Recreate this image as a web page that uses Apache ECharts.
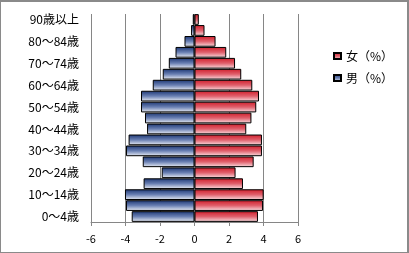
<!DOCTYPE html>
<html><head><meta charset="utf-8">
<script src="https://cdn.jsdelivr.net/npm/echarts@6/dist/echarts.min.js"></script>
<style>
html,body{margin:0;padding:0;background:#fff;}
#c{width:409px;height:253px;box-sizing:border-box;border:1px solid #8a8a8a;border-top:2px solid #8a8a8a;border-right:2px solid #8a8a8a;}
</style></head>
<body><div id="c"></div>
<script>
var categories = ["0～4歳","5～9歳","10～14歳","15～19歳","20～24歳","25～29歳","30～34歳","35～39歳","40～44歳","45～49歳","50～54歳","55～59歳","60～64歳","65～69歳","70～74歳","75～79歳","80～84歳","85～89歳","90歳以上"];
var male = [-3.64,-3.97,-4.03,-2.95,-1.9,-3.0,-3.97,-3.82,-2.75,-2.87,-3.1,-3.1,-2.42,-1.84,-1.49,-1.1,-0.58,-0.2,-0.1];
var female = [3.68,3.97,4.01,2.81,2.38,3.43,3.91,3.91,3.0,3.3,3.58,3.74,3.35,2.71,2.35,1.84,1.22,0.58,0.25];
var xTicks = [-6,-4,-2,0,2,4,6];

var chart = echarts.init(document.getElementById('c'), null, {renderer:'canvas'});
function grad(a,b,c){return new echarts.graphic.LinearGradient(0,0,0,1,[{offset:0,color:a},{offset:0.5,color:b},{offset:1,color:c}]);}
var font = '"Noto Sans CJK JP","Noto Sans",sans-serif';
chart.setOption({
  animation:false,
  textStyle:{fontFamily:font},
  grid:{left:90,right:109,top:12,bottom:30,containLabel:false},
  legend:{
    orient:'vertical', left:327, top:43, itemWidth:7, itemHeight:6, itemGap:10,
    data:['女（%）','男（%）'],
    textStyle:{fontSize:12,color:'#000',fontFamily:font},
    icon:'rect'
  },
  xAxis:{
    type:'value', min:xTicks[0], max:xTicks[xTicks.length-1], interval:2,
    axisLine:{show:true,lineStyle:{color:'#868686'}},
    axisTick:{show:true,length:4,lineStyle:{color:'#868686'}},
    splitLine:{show:true,lineStyle:{color:'#868686',width:1}},
    axisLabel:{fontSize:11,color:'#000',margin:11}
  },
  yAxis:{
    type:'category', data:categories,
    axisLine:{show:false}, axisTick:{show:false},
    axisLabel:{interval:1,fontSize:12,color:'#000',margin:12}
  },
  series:[
    {name:'女（%）',type:'bar',data:female,barGap:'-100%',barCategoryGap:'2%',
     itemStyle:{color:grad('#cf1d2a','#e0606c','#fae1e4'),borderColor:'#000',borderWidth:1}},
    {name:'男（%）',type:'bar',data:male,barGap:'-100%',barCategoryGap:'2%',
     itemStyle:{color:grad('#1b3572','#6a80b3','#eef1f7'),borderColor:'#000',borderWidth:1}}
  ]
});
</script></body></html>
